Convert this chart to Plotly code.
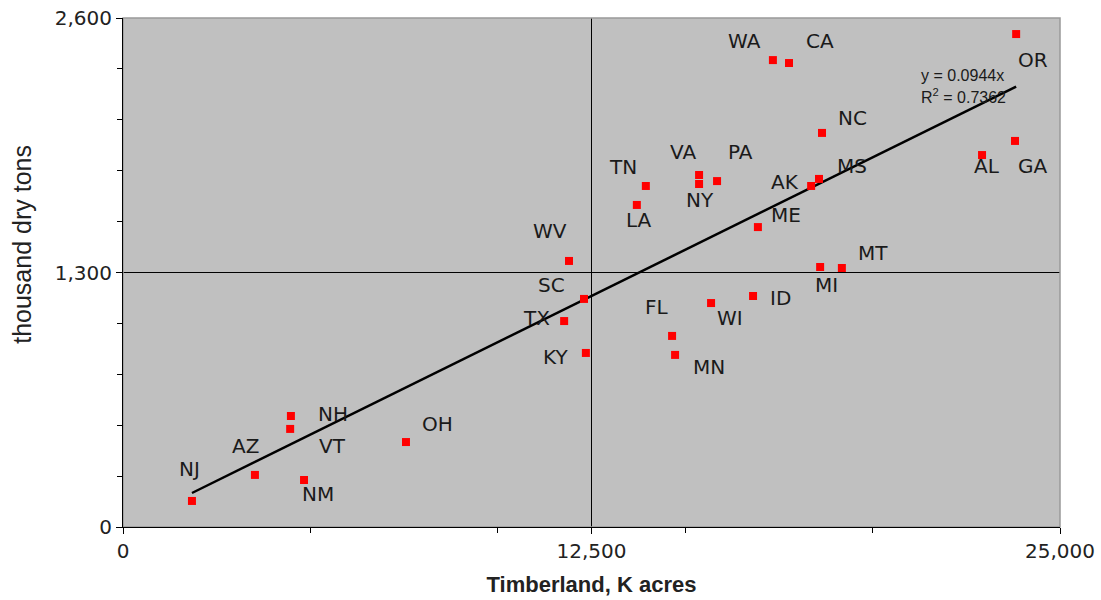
import plotly.graph_objects as go

states = ["NJ","AZ","NH","VT","NM","OH","WV","SC","TX","KY","LA","TN","VA","NY","PA",
          "FL","MN","WI","ID","ME","WA","CA","NC","AK","MS","MI","MT","AL","GA","OR"]
timberland = [1840,3520,4480,4460,4830,7550,11900,12300,11770,12350,13710,13950,15370,15370,15850,
              14650,14730,15690,16810,16940,17340,17770,18650,18360,18570,18600,19180,22920,23800,23830]
biomass = [133,266,567,501,240,434,1359,1165,1052,889,1645,1742,1798,1752,1767,
           976,879,1144,1180,1532,2385,2370,2013,1742,1778,1328,1323,1900,1972,2518]
# label offsets in pixels (dx, dy) relative to the marker
label_dx = [-2,-9,42,42,14,32,-19,-33,-28,-30,2,-23,-16,1,23,-15,34,19,27,28,-28,31,30,-26,33,6,31,5,17,17]
label_dy = [-32,-29,-2,17,14,-18,-30,-14,-3,4,15,-19,-23,16,-29,-29,12,15,2,-12,-19,-22,-15,-4,-13,18,-15,11,25,26]

slope = 0.0944
r2 = 0.7362
x_ticks = [0, 12500, 25000]
x_tick_text = ["0", "12,500", "25,000"]
y_ticks = [0, 1300, 2600]
y_tick_text = ["0", "1,300", "2,600"]
x_cross = 12500
y_cross = 1300

FONT = "DejaVu Sans, Liberation Sans, Arial, sans-serif"
AFONT = "Liberation Sans, Arial, sans-serif"

fig = go.Figure()

xmin, xmax = min(timberland), max(timberland)
fig.add_trace(go.Scatter(x=[xmin, xmax], y=[slope * xmin, slope * xmax], mode="lines",
                         line=dict(color="black", width=2.5), hoverinfo="skip", showlegend=False))

fig.add_trace(go.Scatter(x=timberland, y=biomass, mode="markers",
                         marker=dict(symbol="square", size=8, color="#FF0000",
                                     line=dict(width=0)),
                         text=states, showlegend=False))

for s, xv, yv, dx, dy in zip(states, timberland, biomass, label_dx, label_dy):
    fig.add_annotation(x=xv, y=yv, text=s, showarrow=False, xshift=dx, yshift=-dy,
                       font=dict(family=FONT, size=20, color="#1a1a1a"))

fig.add_annotation(xref="paper", yref="paper", x=0.849, y=0.888, xanchor="left", yanchor="middle",
                   text=f"y = {slope}x", showarrow=False,
                   font=dict(family=AFONT, size=16, color="#1a1a1a"))
fig.add_annotation(xref="paper", yref="paper", x=0.849, y=0.847, xanchor="left", yanchor="middle",
                   text=f"R<sup>2</sup> = {r2}", showarrow=False,
                   font=dict(family=AFONT, size=16, color="#1a1a1a"))

# y-axis title (placed as in the reference, above the axis centre)
fig.add_annotation(xref="paper", yref="paper", x=-0.108, y=0.556, xanchor="center", yanchor="middle",
                   text="thousand dry tons", textangle=-90, showarrow=False,
                   font=dict(family=AFONT, size=25, color="#222222"))

# crossing reference lines
fig.add_shape(type="line", xref="x", yref="paper", x0=x_cross, x1=x_cross, y0=0, y1=1,
              line=dict(color="black", width=1), layer="below")
fig.add_shape(type="line", xref="paper", yref="y", x0=0, x1=1, y0=y_cross, y1=y_cross,
              line=dict(color="black", width=1), layer="below")
# gray border top/right
fig.add_shape(type="rect", xref="paper", yref="paper", x0=0, x1=1, y0=0, y1=1,
              line=dict(color="#999999", width=1.5), layer="below")

fig.update_xaxes(range=[0, 25000], tickvals=x_ticks, ticktext=x_tick_text,
                 showgrid=False, zeroline=False, showline=True, linecolor="black", linewidth=1,
                 ticks="outside", ticklen=6, tickcolor="black", ticklabeloverflow="allow",
                 minor=dict(dtick=5000, tick0=0, ticks="outside", ticklen=5, tickcolor="black", showgrid=False),
                 tickfont=dict(family=FONT, size=20, color="#222222"),
                 title=dict(text="<b>Timberland, K acres</b>", font=dict(family=AFONT, size=22, color="#222222"),
                            standoff=14))
fig.update_yaxes(range=[0, 2600], tickvals=y_ticks, ticktext=y_tick_text,
                 showgrid=False, zeroline=False, showline=True, linecolor="black", linewidth=1,
                 ticks="outside", ticklen=6, tickcolor="black", ticklabeloverflow="allow",
                 minor=dict(dtick=260, tick0=0, ticks="outside", ticklen=5, tickcolor="black", showgrid=False),
                 tickfont=dict(family=FONT, size=20, color="#222222"))

fig.update_layout(width=1101, height=600, paper_bgcolor="white", plot_bgcolor="#C0C0C0",
                  margin=dict(l=123, r=41, t=18, b=73, autoexpand=False), showlegend=False)

fig.write_html("out.html", config={"displayModeBar": False},
               post_script="document.body.style.margin='0';document.body.style.overflow='hidden';")
